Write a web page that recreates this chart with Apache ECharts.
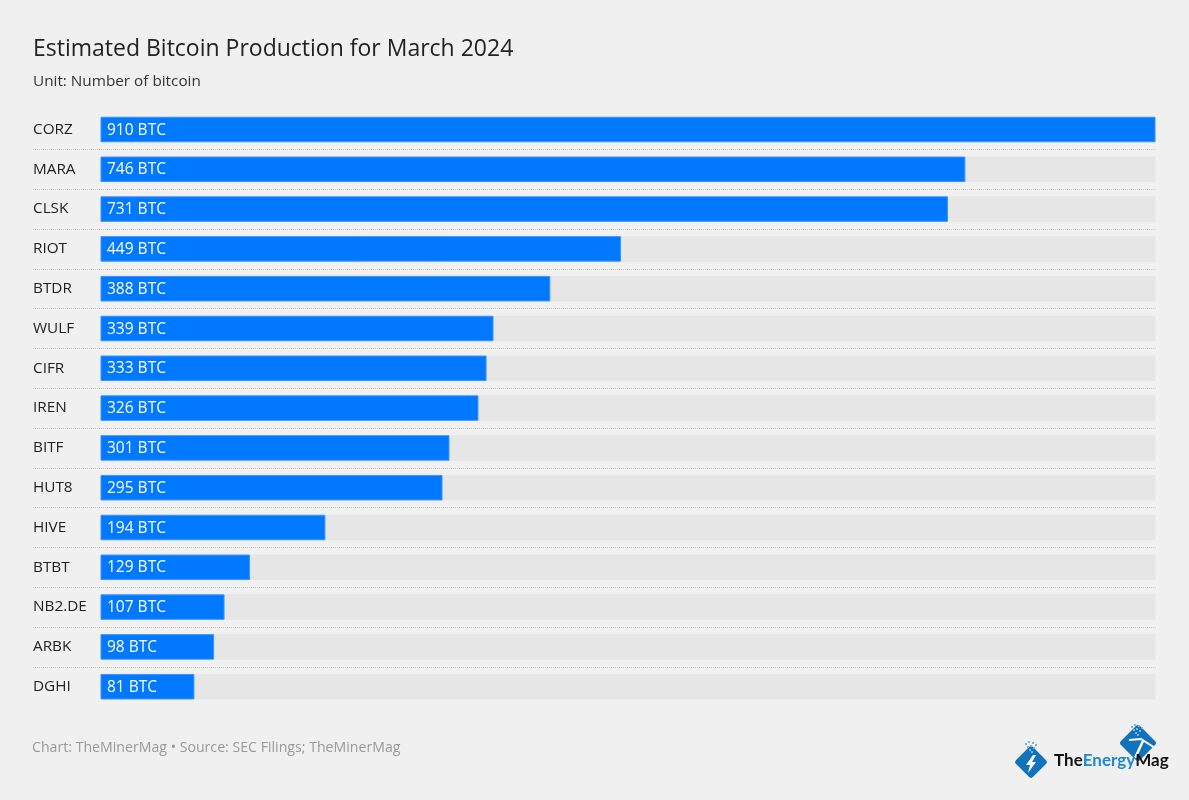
<!DOCTYPE html>
<html>
<head>
<meta charset="utf-8">
<style>html,body{margin:0;padding:0;background:#f0f0f0}#c{width:1189px;height:800px}</style>
<script src="https://cdn.jsdelivr.net/npm/echarts@6/dist/echarts.min.js"></script>
</head>
<body>
<div id="c"></div>
<script>
const categories = ['CORZ','MARA','CLSK','RIOT','BTDR','WULF','CIFR','IREN','BITF','HUT8','HIVE','BTBT','NB2.DE','ARBK','DGHI'];
const production = [910,746,731,449,388,339,333,326,301,295,194,129,107,98,81];
const titleText = 'Estimated Bitcoin Production for March 2024';
const subtitleText = 'Unit: Number of bitcoin';
const footerText = 'Chart: TheMinerMag • Source: SEC Filings; TheMinerMag';

const FONT = '"Open Sans"';
const chart = echarts.init(document.getElementById('c'), null, {renderer:'canvas'});

function diamond(cx, cy, r, fill) {
  return {type:'rect', x:cx, y:cy, rotation:Math.PI/4, silent:true,
    shape:{x:-r, y:-r, width:2*r, height:2*r, r:3}, style:{fill:fill}};
}
function specks(cx, cy) {
  const offs = [[-5,-4],[-2,-6],[2,-5],[5,-3],[-3,-1],[0,-2],[3,0],[-1,2],[1,4]];
  return offs.map(o => ({type:'rect', silent:true,
    shape:{x:cx+o[0]-1, y:cy+o[1]-1, width:2, height:2}, style:{fill:'#7fb4dd'}}));
}

chart.setOption({
  backgroundColor:'#f0f0f0',
  animation:false,
  title:{
    text:titleText, subtext:subtitleText, left:33, top:38, padding:0, itemGap:13,
    textStyle:{fontFamily:FONT, fontSize:23, fontWeight:400, color:'#222'},
    subtextStyle:{fontFamily:FONT, fontSize:15.3, color:'#333'}
  },
  grid:[
    {left:100.5, right:33.5, top:109.6, height:597},
    {left:33, right:33.5, top:109.6, height:597}
  ],
  xAxis:[
    {gridIndex:0, type:'value', min:0, max:910, show:false},
    {gridIndex:1, type:'value', min:0, max:910, show:false}
  ],
  yAxis:[
    {gridIndex:0, type:'category', inverse:true, data:categories,
      axisLine:{show:false}, axisTick:{show:false}, splitLine:{show:false},
      axisLabel:{align:'left', margin:67.5, fontFamily:FONT, fontSize:15.3, color:'#222', padding:[1,0,0,0]}},
    {gridIndex:1, type:'category', inverse:true, data:categories,
      axisLine:{show:false}, axisTick:{show:false}, axisLabel:{show:false},
      splitLine:{show:true, showMinLine:false, showMaxLine:false,
        lineStyle:{type:'dotted', color:'#c4c4c4', width:1}}}
  ],
  series:[
    {type:'bar', xAxisIndex:0, yAxisIndex:0, data:production, barWidth:25.5, silent:true,
      showBackground:true, backgroundStyle:{color:'#e6e6e6'},
      itemStyle:{color:'#0078ff', borderColor:'#3a95ff', borderWidth:1},
      label:{show:true, position:'insideLeft', distance:6.5, formatter:'{c} BTC', offset:[0,0.6],
        fontFamily:FONT, fontSize:15.5, color:'#fff'}},
    {type:'bar', xAxisIndex:1, yAxisIndex:1, data:[], silent:true}
  ],
  graphic:[
    {type:'text', x:32, y:741, silent:true,
      style:{text:footerText, fontFamily:FONT, fontSize:14.15, fill:'#999'}},
    diamond(1031, 762, 12, '#1272bb'),
    {type:'polygon', silent:true, shape:{points:[[1033,755],[1026,765],[1030,765],[1028,773],[1036,762],[1032,762],[1036,755]]}, style:{fill:'#fff'}},
    ...specks(1031,748),
    diamond(1138, 743, 13.5, '#1272bb'),
    {type:'polyline', silent:true, shape:{points:[[1129,740],[1141,739],[1155,748]]}, style:{stroke:'#fff', lineWidth:2, fill:null}},
    {type:'line', silent:true, shape:{x1:1143,y1:741,x2:1135,y2:758}, style:{stroke:'#fff', lineWidth:2.5}},
    ...specks(1137,731),
    {type:'text', x:1054, y:752, silent:true,
      style:{rich:{a:{fontFamily:'Lato', fontSize:17, fontWeight:700, fill:'#111'},
                   b:{fontFamily:'Lato', fontSize:17, fontWeight:700, fill:'#1e88d0'}},
        text:'{a|The}{b|Energy}{a|Mag}'}}
  ]
});
</script>
</body>
</html>
